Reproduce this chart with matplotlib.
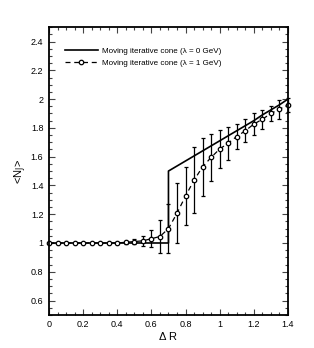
import matplotlib
matplotlib.use('Agg')
import matplotlib.pyplot as plt
import numpy as np
from matplotlib.ticker import MultipleLocator, FormatStrFormatter

plt.rcParams['font.family'] = ['Liberation Sans', 'DejaVu Sans']

# lambda = 0 GeV (solid)
x0 = [0.0, 0.70, 0.70, 0.75, 0.80, 0.85, 0.90, 0.95, 1.00, 1.05, 1.10, 1.15,
      1.20, 1.25, 1.30, 1.35, 1.40]
y0 = [1.0, 1.0, 1.50, 1.535, 1.57, 1.605, 1.64, 1.675, 1.71, 1.745, 1.78, 1.815,
      1.85, 1.89, 1.925, 1.96, 2.0]

# lambda = 1 GeV (dashed, circles, with errors)
x1 = [0.00, 0.05, 0.10, 0.15, 0.20, 0.25, 0.30, 0.35, 0.40, 0.45, 0.50, 0.55,
      0.60, 0.65, 0.70, 0.75, 0.80, 0.85, 0.90, 0.95, 1.00, 1.05, 1.10, 1.15,
      1.20, 1.25, 1.30, 1.35, 1.40]
y1 = [1.0, 1.0, 1.0, 1.0, 1.0, 1.0, 1.0, 1.0, 1.0, 1.005, 1.01, 1.015,
      1.03, 1.045, 1.10, 1.207, 1.326, 1.437, 1.529, 1.595, 1.653, 1.694, 1.74, 1.78,
      1.826, 1.86, 1.90, 1.93, 1.96]
e1 = [0.0, 0.0, 0.0, 0.0, 0.0, 0.0, 0.0, 0.0, 0.005, 0.01, 0.02, 0.037,
      0.058, 0.115, 0.17, 0.21, 0.2, 0.23, 0.2, 0.165, 0.13, 0.115, 0.09, 0.08,
      0.075, 0.065, 0.055, 0.065, 0.05]

labels = ['Moving iterative cone (\u03bb = 0 GeV)', 'Moving iterative cone (\u03bb = 1 GeV)']

fig = plt.figure(figsize=(3.14, 3.48), dpi=100)
ax = fig.add_axes([0.156, 0.095, 0.761, 0.827])

ax.plot(x0, y0, color='k', lw=1.2, label=labels[0])
ax.errorbar(x1, y1, yerr=e1, fmt='none', ecolor='k', elinewidth=0.9, capsize=1.5,
            capthick=0.9, clip_on=False)
ax.plot(x1, y1, color='k', lw=0.9, ls=(0, (4, 3)), marker='o', ms=3.2,
        mfc='white', mec='k', mew=0.9, label=labels[1], clip_on=False)

ax.set_xlim(0, 1.4)
ax.set_ylim(0.5, 2.5)
ax.xaxis.set_major_locator(MultipleLocator(0.2))
ax.xaxis.set_minor_locator(MultipleLocator(0.05))
ax.yaxis.set_major_locator(MultipleLocator(0.2))
ax.yaxis.set_minor_locator(MultipleLocator(0.05))
ax.xaxis.set_major_formatter(FormatStrFormatter('%g'))
ax.yaxis.set_major_formatter(FormatStrFormatter('%g'))
ax.set_yticks([0.6, 0.8, 1.0, 1.2, 1.4, 1.6, 1.8, 2.0, 2.2, 2.4])
ax.tick_params(which='both', direction='in', top=True, right=True, labelsize=6.5,
               width=0.8, color='#444444')
ax.tick_params(which='major', length=4, pad=4)
ax.tick_params(which='minor', length=2)
for s in ax.spines.values():
    s.set_linewidth(1.3)

ax.set_xlabel('\u0394 R', fontsize=8, labelpad=2)
ax.set_ylabel('<N$_\\mathrm{J}$>', fontsize=8, labelpad=1)

ax.legend(loc='upper left', bbox_to_anchor=(0.055, 0.94), frameon=False, fontsize=5.8,
          handlelength=4.0, handletextpad=0.5, labelspacing=0.45, borderaxespad=0,
          numpoints=1)

fig.savefig('out.png', dpi=100)
